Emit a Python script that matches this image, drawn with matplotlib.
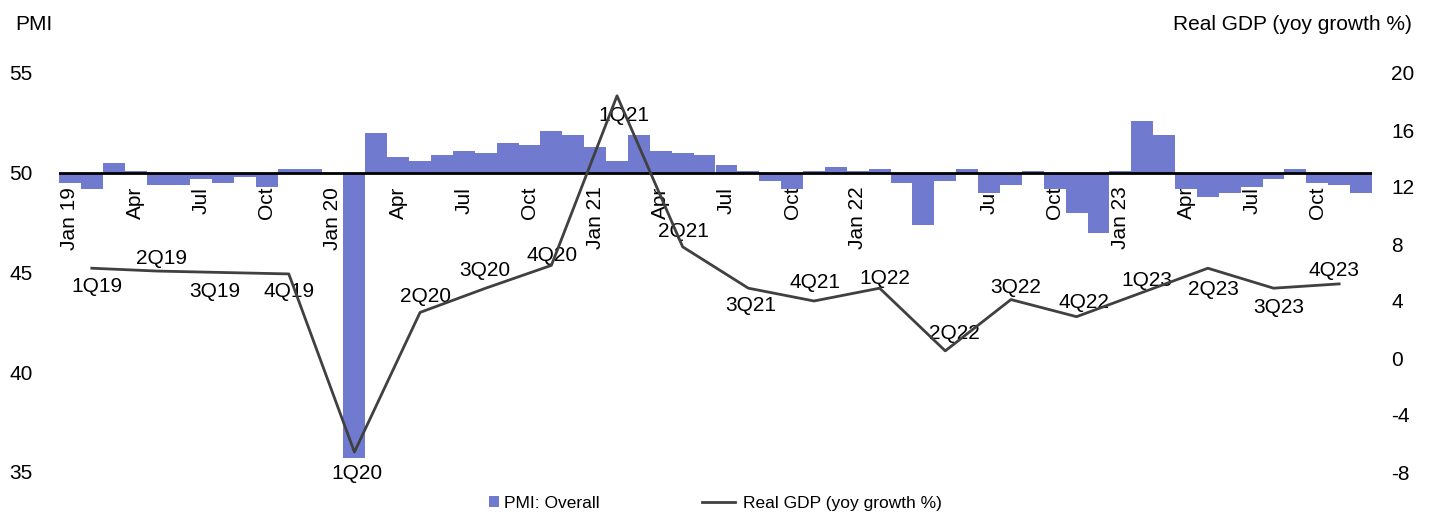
import numpy as np
import matplotlib
matplotlib.use('Agg')
import matplotlib.pyplot as plt
from matplotlib.lines import Line2D
from matplotlib.patches import Patch

plt.rcParams['font.family'] = ['Liberation Sans', 'DejaVu Sans']
plt.rcParams['axes.unicode_minus'] = False

# Monthly PMI, Jan 2019 - Dec 2023
pmi = [49.5, 49.2, 50.5, 50.1, 49.4, 49.4, 49.7, 49.5, 49.8, 49.3, 50.2, 50.2,
       50.0, 35.7, 52.0, 50.8, 50.6, 50.9, 51.1, 51.0, 51.5, 51.4, 52.1, 51.9,
       51.3, 50.6, 51.9, 51.1, 51.0, 50.9, 50.4, 50.1, 49.6, 49.2, 50.1, 50.3,
       50.1, 50.2, 49.5, 47.4, 49.6, 50.2, 49.0, 49.4, 50.1, 49.2, 48.0, 47.0,
       50.1, 52.6, 51.9, 49.2, 48.8, 49.0, 49.3, 49.7, 50.2, 49.5, 49.4, 49.0]

# Quarterly real GDP growth (yoy %)
quarters = ['1Q19', '2Q19', '3Q19', '4Q19', '1Q20', '2Q20', '3Q20', '4Q20',
            '1Q21', '2Q21', '3Q21', '4Q21', '1Q22', '2Q22', '3Q22', '4Q22',
            '1Q23', '2Q23', '3Q23', '4Q23']
gdp = [6.3, 6.1, 6.0, 5.9, -6.6, 3.2, 4.9, 6.5,
       18.4, 7.8, 4.9, 4.0, 4.9, 0.5, 4.1, 2.9,
       4.6, 6.3, 4.9, 5.2]

# label offsets from each point (pixels, +y = down)
label_offsets = [(5, 18), (4, -13), (-8, 19), (0, 18), (3, 21), (5, -16), (-1, -18), (1, -10),
                 (7, 20), (1, -15), (2, 17), (1, -18), (5, -10), (9, -17), (5, -12), (7, -14),
                 (5, -12), (6, 21), (5, 19), (-5, -13)]

month_names = ['Jan', 'Apr', 'Jul', 'Oct']
years = ['19', '20', '21', '22', '23']

bar_color = '#707BD0'
line_color = '#404040'
fs = 15

x = np.arange(len(pmi))
xq = np.arange(len(gdp)) * 3 + 1

tick_pos = np.arange(0, len(pmi), 3)
tick_labels = []
for y in years:
    for m in month_names:
        tick_labels.append(m + ' ' + y if m == 'Jan' else m)

fig, ax = plt.subplots(figsize=(14.32, 5.18), dpi=100)
fig.subplots_adjust(left=59/1432, right=1372/1432, bottom=1-472/518, top=1-73/518)

ax.bar(x, np.array(pmi) - 50, bottom=50, width=1.0, color=bar_color, zorder=2)
ax.axhline(50, color='black', lw=2, zorder=3)
ax.set_xlim(-0.5, len(pmi) - 0.5)
ax.set_ylim(35, 55)
ax.set_yticks([35, 40, 45, 50, 55])
ax.tick_params(axis='y', length=0, pad=19, labelsize=fs)

ax.spines['bottom'].set_position(('data', 50))
for s in ax.spines.values():
    s.set_visible(False)
ax.set_xticks(tick_pos)
ax.set_xticklabels(tick_labels, rotation=90)
ax.tick_params(axis='x', length=0, pad=10, labelsize=fs)

ax2 = ax.twinx()
ax2.plot(xq, gdp, color=line_color, lw=2, zorder=4)
ax2.set_ylim(-8, 20)
ax2.set_yticks(np.arange(-8, 21, 4))
ax2.tick_params(axis='y', length=0, pad=14, labelsize=fs)
for s in ax2.spines.values():
    s.set_visible(False)

for q, xv, yv, (dx, dy) in zip(quarters, xq, gdp, label_offsets):
    ax2.annotate(q, (xv, yv), xytext=(dx * 0.72, -dy * 0.72), textcoords='offset points',
                 ha='center', va='center', fontsize=fs)

fig.text(15/1432, 1-25/518, 'PMI', ha='left', va='center', fontsize=fs)
fig.text(1412/1432, 1-24/518, 'Real GDP (yoy growth %)', ha='right', va='center', fontsize=fs)

leg1 = fig.legend([Patch(facecolor=bar_color)], ['PMI: Overall'], loc='center left',
                  bbox_to_anchor=(489/1432, 15/518), frameon=False, fontsize=12.5,
                  borderpad=0, borderaxespad=0, handlelength=0.6, handleheight=0.65,
                  handletextpad=0.25)
fig.legend([Line2D([], [], color=line_color, lw=2)], ['Real GDP (yoy growth %)'],
           loc='center left', bbox_to_anchor=(702/1432, 15/518), frameon=False,
           fontsize=12.5, borderpad=0, borderaxespad=0, handlelength=1.9,
           handletextpad=0.45)

plt.savefig('out.png', dpi=100)
